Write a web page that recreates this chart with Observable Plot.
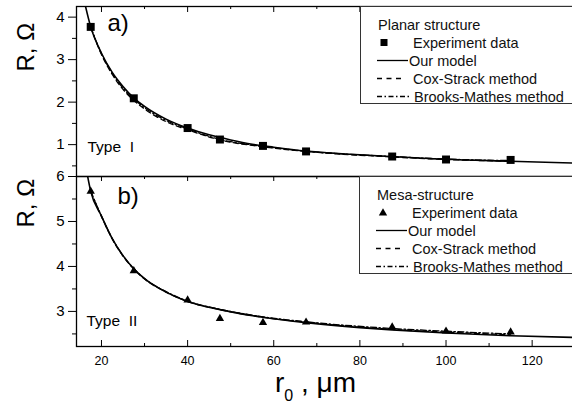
<!DOCTYPE html>
<html>
<head>
<meta charset="utf-8">
<script src="https://cdn.jsdelivr.net/npm/d3@7"></script>
<script src="https://cdn.jsdelivr.net/npm/@observablehq/plot@0.6"></script>
<style>
html,body{margin:0;padding:0;background:#fff;overflow:hidden;}
#chart{position:relative;width:572px;height:405px;overflow:hidden;background:#fff;font-family:"Liberation Sans",Arial,sans-serif;}
#chart > svg{position:absolute;left:0;}
</style>
</head>
<body>
<div id="chart"></div>
<script>
// ---- tick values ----
const xTicks = [20, 40, 60, 80, 100, 120];
const xMinor = [30, 50, 70, 90, 110];
const yTicksA = [1, 2, 3, 4];
const yMinorA = [0.5, 1.5, 2.5, 3.5];
const yTicksB = [3, 4, 5, 6];
const yMinorB = [2.5, 3.5, 4.5, 5.5];

// ---- experiment data ----
const rExp = [17.5, 27.5, 40, 47.5, 57.5, 67.5, 87.5, 100, 115];
const planarExp = [3.77, 2.09, 1.39, 1.12, 0.97, 0.84, 0.72, 0.65, 0.64];
const mesaExp = [5.67, 3.90, 3.25, 2.84, 2.75, 2.76, 2.65, 2.56, 2.54];

// ---- model curves ----
const rModelA = [16, 17.5, 20, 22.5, 25, 27.5, 30, 35, 40, 45, 50, 55, 60, 67.5, 75, 87.5, 100, 115, 130];
const planarModel = [4.38, 3.77, 3.15, 2.70, 2.37, 2.10, 1.90, 1.60, 1.39, 1.23, 1.11, 1.01, 0.94, 0.85, 0.79, 0.72, 0.655, 0.61, 0.565];
const rMethods = [17.5, 20, 22.5, 25, 27.5, 30, 35, 40, 47.5, 57.5, 67.5, 87.5, 100, 115];
const planarCox = [3.77, 3.12, 2.65, 2.30, 2.04, 1.84, 1.54, 1.35, 1.11, 0.95, 0.84, 0.71, 0.65, 0.61];
const planarBrooks = [3.77, 3.14, 2.68, 2.33, 2.07, 1.87, 1.57, 1.37, 1.125, 0.96, 0.845, 0.72, 0.66, 0.625];

const rModelB = [16.5, 17.5, 20, 22.5, 25, 27.5, 30, 35, 40, 47.5, 57.5, 67.5, 80, 87.5, 100, 115, 130];
const mesaModel = [6.15, 5.67, 5.12, 4.62, 4.24, 3.95, 3.73, 3.43, 3.22, 3.04, 2.87, 2.75, 2.64, 2.59, 2.52, 2.46, 2.42];
const mesaCox = [5.67, 5.11, 4.61, 4.23, 3.94, 3.72, 3.43, 3.22, 3.04, 2.87, 2.76, 2.60, 2.54, 2.48];
const mesaBrooks = [5.67, 5.12, 4.62, 4.24, 3.95, 3.73, 3.44, 3.23, 3.05, 2.88, 2.77, 2.62, 2.56, 2.50];

// ---- texts ----
const legendA = ["Planar structure", "Experiment data", "Our model", "Cox-Strack method", "Brooks-Mathes method"];
const legendB = ["Mesa-structure", "Experiment data", "Our model", "Cox-Strack method", "Brooks-Mathes method"];

const FONT = '"Liberation Sans", Arial, sans-serif';
const X_DOMAIN = [14.2, 129.6];
const pts = (xs, ys) => xs.map((x, i) => ({x, y: ys[i]}));

const svgStyle = {fontFamily: FONT, color: "black", background: "transparent", maxWidth: "none", overflow: "visible"};

function curveMarks(model, cox, brooks) {
  return [
    Plot.line(cox, {x: "x", y: "y", stroke: "black", strokeWidth: 1.3, strokeDasharray: "5,3.5", curve: "monotone-x", clip: true}),
    Plot.line(brooks, {x: "x", y: "y", stroke: "black", strokeWidth: 1.3, strokeDasharray: "6,2.5,1.5,2.5", curve: "monotone-x", clip: true}),
    Plot.line(model, {x: "x", y: "y", stroke: "black", strokeWidth: 1.6, curve: "monotone-x", clip: true})
  ];
}

// ---- panel a ----
const plotA = Plot.plot({
  width: 574, height: 180,
  marginLeft: 76, marginRight: 1, marginTop: 6, marginBottom: 4,
  style: svgStyle,
  x: {domain: X_DOMAIN, axis: null},
  y: {domain: [0.25, 4.25]},
  marks: [
    Plot.axisY({ticks: yTicksA, tickSize: 8, tickPadding: 4, fontSize: 15, tickFormat: d => String(d), label: null}),
    Plot.axisY({ticks: yMinorA, tickSize: 4, tickFormat: () => "", label: null}),
    Plot.ruleX(xTicks, {x: d => d, insetBottom: 164, stroke: "black"}),
    Plot.ruleX(xMinor, {x: d => d, insetBottom: 167, stroke: "black"}),
    ...curveMarks(pts(rModelA, planarModel), pts(rMethods, planarCox), pts(rMethods, planarBrooks)),
    Plot.dot(pts(rExp, planarExp), {x: "x", y: "y", symbol: "square", r: 4.5, fill: "black", stroke: "none"}),
    Plot.frame({stroke: "black", strokeWidth: 1.3}),
    Plot.text(["a)"], {text: d => d, frameAnchor: "top-left", dx: 31, dy: 24.5, textAnchor: "start", lineAnchor: "bottom", fontSize: 24}),
    Plot.text(["Type\u00a0\u00a0I"], {text: d => d, frameAnchor: "bottom-left", dx: 11, dy: -25, textAnchor: "start", lineAnchor: "bottom", fontSize: 15.5}),
    Plot.text(["R, Ω"], {text: d => d, frameAnchor: "left", rotate: -90, dx: -50.5, dy: -20, fontSize: 24})
  ]
});

// ---- panel b ----
const plotB = Plot.plot({
  width: 574, height: 235,
  marginLeft: 76, marginRight: 1, marginTop: 6, marginBottom: 59,
  style: svgStyle,
  x: {domain: X_DOMAIN},
  y: {domain: [2.22, 6.0]},
  marks: [
    Plot.axisY({ticks: yTicksB, tickSize: 8, tickPadding: 4, fontSize: 15, tickFormat: d => String(d), label: null}),
    Plot.axisY({ticks: yMinorB, tickSize: 4, tickFormat: () => "", label: null}),
    Plot.axisX({ticks: xTicks, tickSize: 0, tickPadding: 9.5, fontSize: 12.5, tickFormat: d => String(d), label: null}),
    Plot.ruleX(xTicks, {x: d => d, insetTop: 164, stroke: "black"}),
    Plot.ruleX(xMinor, {x: d => d, insetTop: 167, stroke: "black"}),
    Plot.ruleX(xTicks, {x: d => d, insetBottom: 165, stroke: "black"}),
    Plot.ruleX(xMinor, {x: d => d, insetBottom: 167, stroke: "black"}),
    ...curveMarks(pts(rModelB, mesaModel), pts(rMethods, mesaCox), pts(rMethods, mesaBrooks)),
    Plot.dot(pts(rExp, mesaExp), {x: "x", y: "y", symbol: "triangle", r: 3.1, fill: "black", stroke: "none"}),
    Plot.frame({stroke: "black", strokeWidth: 1.3}),
    Plot.text(["b)"], {text: d => d, frameAnchor: "top-left", dx: 41, dy: 27, textAnchor: "start", lineAnchor: "bottom", fontSize: 24}),
    Plot.text(["Type\u00a0\u00a0II"], {text: d => d, frameAnchor: "bottom-left", dx: 10, dy: -21, textAnchor: "start", lineAnchor: "bottom", fontSize: 15.5}),
    Plot.text(["R, Ω"], {text: d => d, frameAnchor: "left", rotate: -90, dx: -50.5, dy: -34, fontSize: 24})
  ]
});

const chart = document.getElementById("chart");
plotA.style.top = "0px";
plotB.style.top = "170px";
chart.appendChild(plotA);
chart.appendChild(plotB);

// ---- legends and x title overlay ----
const ov = d3.select(chart).append("svg")
  .attr("width", 572).attr("height", 405)
  .style("top", "0px")
  .attr("font-family", FONT);

function drawLegend(x0, y0, labels, symbol) {
  const g = ov.append("g");
  g.append("rect").attr("x", x0 + 0.5).attr("y", y0 + 0.5)
    .attr("width", 240).attr("height", 97)
    .attr("fill", "white").attr("stroke", "#333").attr("stroke-width", 1);
  const rows = [18.5, 36.5, 54.5, 72.5, 90.5].map(d => y0 + d);
  const tx = [x0 + 18, x0 + 53, x0 + 49, x0 + 53, x0 + 54];
  labels.forEach((t, i) => {
    g.append("text").attr("x", tx[i]).attr("y", rows[i] + 5.2)
      .attr("font-size", 14.5).attr("fill", "#111").text(t);
  });
  // symbol
  const sx = x0 + 24, sy = rows[1];
  if (symbol === "square") {
    g.append("rect").attr("x", sx - 3.5).attr("y", sy - 3.5).attr("width", 7).attr("height", 7).attr("fill", "black");
  } else {
    g.append("path").attr("d", `M${sx},${sy - 4.2}L${sx + 4.2},${sy + 3}L${sx - 4.2},${sy + 3}Z`).attr("fill", "black");
  }
  g.append("line").attr("x1", x0 + 17).attr("x2", x0 + 48).attr("y1", rows[2]).attr("y2", rows[2])
    .attr("stroke", "black").attr("stroke-width", 1.3);
  g.append("line").attr("x1", x0 + 17).attr("x2", x0 + 42).attr("y1", rows[3]).attr("y2", rows[3])
    .attr("stroke", "black").attr("stroke-width", 1.3).attr("stroke-dasharray", "5,4.5");
  g.append("line").attr("x1", x0 + 17).attr("x2", x0 + 50).attr("y1", rows[4]).attr("y2", rows[4])
    .attr("stroke", "black").attr("stroke-width", 1.3).attr("stroke-dasharray", "5,2.5,1.5,2.5");
}
drawLegend(360, 6, legendA, "square");
drawLegend(359, 176, legendB, "triangle");

const xt = ov.append("text").attr("x", 275).attr("y", 391.5).attr("font-size", 28).attr("fill", "black");
xt.append("tspan").text("r");
xt.append("tspan").attr("font-size", 16).attr("dy", 9).text("0");
xt.append("tspan").attr("dy", -9).text("\u00a0,\u00a0μm");
</script>
</body>
</html>
